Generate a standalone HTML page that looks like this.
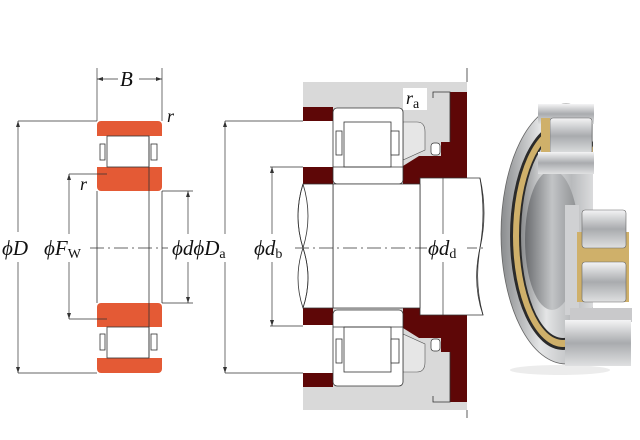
<!DOCTYPE html>
<html><head><meta charset="utf-8"><style>
html,body{margin:0;padding:0;background:#fff;}
svg{display:block;}
text{font-family:"Liberation Serif",serif;font-style:italic;fill:#111;}
</style></head><body>
<svg width="640" height="440" viewBox="0 0 640 440" xmlns="http://www.w3.org/2000/svg">
<defs>
<linearGradient id="steel" x1="0" y1="0" x2="1" y2="0">
<stop offset="0" stop-color="#8a8c8e"/><stop offset="0.3" stop-color="#e4e5e6"/><stop offset="0.6" stop-color="#b8babc"/><stop offset="1" stop-color="#eeeeef"/></linearGradient>
<linearGradient id="steel2" x1="0" y1="0" x2="0" y2="1">
<stop offset="0" stop-color="#f4f4f5"/><stop offset="0.5" stop-color="#a9abae"/><stop offset="1" stop-color="#dfe0e1"/></linearGradient>
<linearGradient id="bore" x1="0" y1="0" x2="1" y2="0">
<stop offset="0" stop-color="#6a6c6f"/><stop offset="0.5" stop-color="#c2c4c6"/><stop offset="1" stop-color="#8a8c8f"/></linearGradient>
<clipPath id="cl"><rect x="490" y="90" width="103" height="290"/></clipPath>
</defs>

<!-- LEFT BEARING -->
<g stroke="#333" stroke-width="0.8">
<rect x="97" y="121" width="65" height="70" rx="4" fill="#e45a35" stroke="none"/>
<rect x="97" y="303" width="65" height="70" rx="4" fill="#e45a35" stroke="none"/>
<rect x="97" y="136" width="10" height="31" fill="#fff" stroke="none"/>
<rect x="149" y="136" width="13" height="31" fill="#fff" stroke="none"/>
<rect x="97" y="327" width="10" height="31" fill="#fff" stroke="none"/>
<rect x="149" y="327" width="13" height="31" fill="#fff" stroke="none"/>
<rect x="107" y="136" width="42" height="31" fill="#fff"/>
<rect x="107" y="327" width="42" height="31" fill="#fff"/>
<rect x="100" y="144" width="5" height="16" fill="#fff"/>
<rect x="151" y="144" width="6" height="16" fill="#fff"/>
<rect x="100" y="334" width="5" height="16" fill="#fff"/>
<rect x="151" y="334" width="6" height="16" fill="#fff"/>
<line x1="97" y1="191" x2="97" y2="303"/>
<line x1="149" y1="136" x2="149" y2="358"/>
<line x1="162" y1="191" x2="162" y2="303"/>
</g>
<g stroke="#333" stroke-width="0.7" fill="none">
<line x1="97" y1="68" x2="97" y2="121"/><line x1="162" y1="68" x2="162" y2="121"/>
<line x1="97" y1="79" x2="118" y2="79"/><line x1="139" y1="79" x2="162" y2="79"/>
<line x1="18" y1="121" x2="97" y2="121"/><line x1="18" y1="373" x2="97" y2="373"/>
<line x1="18" y1="121" x2="18" y2="232"/><line x1="18" y1="262" x2="18" y2="373"/>
<line x1="69" y1="174" x2="107" y2="174"/><line x1="69" y1="319" x2="107" y2="319"/>
<line x1="69" y1="174" x2="69" y2="234"/><line x1="69" y1="262" x2="69" y2="319"/>
<line x1="162" y1="191" x2="193" y2="191"/><line x1="162" y1="303" x2="193" y2="303"/>
<line x1="188" y1="191" x2="188" y2="234"/><line x1="188" y1="262" x2="188" y2="303"/>
<line x1="90" y1="248" x2="168" y2="248" stroke-dasharray="14 4 2 4"/>
</g>
<g fill="#333">
<path d="M97 79 l6 -2 v4z"/><path d="M162 79 l-6 -2 v4z"/>
<path d="M18 121 l-2 6 h4z"/><path d="M18 373 l-2 -6 h4z"/>
<path d="M69 174 l-2 6 h4z"/><path d="M69 319 l-2 -6 h4z"/>
<path d="M188 191 l-2 6 h4z"/><path d="M188 303 l-2 -6 h4z"/>
</g>
<text x="120" y="86" font-size="21">B</text>
<text x="167" y="122" font-size="18">r</text>
<text x="80" y="190" font-size="18">r</text>
<text x="2" y="255" font-size="21">ϕD</text>
<text x="44" y="255" font-size="21">ϕF<tspan font-style="normal" font-size="14" dy="3">W</tspan></text>
<text x="172" y="255" font-size="21">ϕdϕD<tspan font-style="normal" font-size="14" dy="3">a</tspan></text>

<!-- MIDDLE ASSEMBLY -->
<rect x="303" y="82" width="164" height="328" fill="#d9d9d9"/>
<rect x="303" y="121" width="30" height="252" fill="#fff"/>
<rect x="333" y="184" width="87" height="124" fill="#fff"/>
<path d="M403 122 h14 q8 0 8 10 v18 l-22 10z" fill="#e6e6e6" stroke="#555" stroke-width="0.6"/>
<path d="M403 372 h14 q8 0 8 -10 v-18 l-22 -10z" fill="#e6e6e6" stroke="#555" stroke-width="0.6"/>
<g fill="#5e0707">
<rect x="303" y="107" width="30" height="14"/>
<rect x="303" y="167" width="30" height="17"/>
<rect x="303" y="307" width="30" height="18"/>
<rect x="303" y="373" width="30" height="14"/>
<path d="M403 166 l16 -10 h22 v-14 h9 v-50 h17 v91 l-8 0 v5 h-56 v-6 h-0z"/>
<path d="M403 328 l16 10 h22 v14 h9 v50 h17 v-91 l-8 0 v-5 h-56 v6z"/>
</g>
<g fill="none" stroke="#333" stroke-width="0.8">
<path d="M433 98 v-6 h17 v50"/><path d="M433 396 v6 h17 v-50"/>
<line x1="467" y1="68" x2="467" y2="82"/><line x1="467" y1="410" x2="467" y2="418"/>
</g>
<g fill="#fff" stroke="#333" stroke-width="0.7">
<rect x="431" y="143" width="9" height="12" rx="3"/>
<rect x="431" y="339" width="9" height="12" rx="3"/>
</g>
<g stroke="#333" stroke-width="0.8">
<rect x="333" y="108" width="70" height="76" rx="4" fill="#fff"/>
<rect x="333" y="310" width="70" height="76" rx="4" fill="#fff"/>
<rect x="344" y="122" width="47" height="45" fill="#fff"/>
<rect x="344" y="327" width="47" height="45" fill="#fff"/>
<rect x="336" y="131" width="6" height="24" fill="#fff"/>
<rect x="391" y="131" width="8" height="24" fill="#fff"/>
<rect x="336" y="339" width="6" height="24" fill="#fff"/>
<rect x="391" y="339" width="8" height="24" fill="#fff"/>
<line x1="333" y1="167" x2="403" y2="167"/><line x1="333" y1="327" x2="403" y2="327"/>
</g>
<g fill="#fff" stroke="#333" stroke-width="0.8">
<path d="M420 178 h60 q6 35 0 70 q-6 35 3 67 h-63z"/>
<path d="M333 184 h87 v124 h-87z"/>
<path d="M303 184 q-10 32 0 64 q10 30 0 60 h30 v-124z"/>
</g>
<path d="M303 184 q-10 32 0 64 q10 30 0 60" fill="none" stroke="#333" stroke-width="0.8"/>
<path d="M303 184 q10 32 0 64 q-10 30 0 60" fill="none" stroke="#333" stroke-width="0.8"/>
<path d="M480 178 q8 35 0 70 q-8 35 3 67" fill="none" stroke="#333" stroke-width="0.8"/>
<line x1="295" y1="248" x2="485" y2="248" stroke="#333" stroke-width="0.7" stroke-dasharray="14 4 2 4"/>
<g stroke="#333" stroke-width="0.7">
<line x1="225" y1="121" x2="303" y2="121"/><line x1="225" y1="373" x2="303" y2="373"/>
<line x1="225" y1="121" x2="225" y2="234"/><line x1="225" y1="262" x2="225" y2="373"/>
<line x1="270" y1="167" x2="303" y2="167"/><line x1="270" y1="326" x2="303" y2="326"/>
<line x1="272" y1="167" x2="272" y2="234"/><line x1="272" y1="262" x2="272" y2="326"/>
<line x1="443" y1="178" x2="443" y2="234"/><line x1="443" y1="262" x2="443" y2="315"/>
</g>
<g fill="#333">
<path d="M225 121 l-2 6 h4z"/><path d="M225 373 l-2 -6 h4z"/>
<path d="M272 167 l-2 6 h4z"/><path d="M272 326 l-2 -6 h4z"/>
</g>
<rect x="403" y="88" width="24" height="22" fill="#fff"/>
<text x="406" y="104" font-size="18">r<tspan font-style="normal" font-size="14" dy="4">a</tspan></text>
<text x="254" y="255" font-size="21">ϕd<tspan font-style="normal" font-size="14" dy="3">b</tspan></text>
<rect x="427" y="236" width="40" height="24" fill="#fff"/>
<text x="428" y="255" font-size="21">ϕd<tspan font-style="normal" font-size="14" dy="3">d</tspan></text>

<!-- PHOTO BEARING -->
<ellipse cx="560" cy="370" rx="50" ry="5" fill="#ececec"/>
<g clip-path="url(#cl)">
<ellipse cx="566" cy="234" rx="65" ry="130" fill="url(#steel)" stroke="#666" stroke-width="0.8"/>
<ellipse cx="563" cy="236" rx="53" ry="114" fill="#2b2b2b"/>
<ellipse cx="563" cy="236" rx="50" ry="111" fill="#cfb06a"/>
<ellipse cx="563" cy="236" rx="44" ry="104" fill="#2b2b2b"/>
<ellipse cx="563" cy="236" rx="42" ry="102" fill="url(#steel)"/>
<ellipse cx="552" cy="240" rx="27" ry="70" fill="url(#bore)"/>
</g>
<rect x="538" y="104" width="56" height="20" fill="url(#steel2)"/>
<rect x="550" y="118" width="42" height="36" rx="3" fill="url(#steel2)" stroke="#666" stroke-width="0.6"/>
<rect x="541" y="118" width="9" height="42" fill="#cfb06a"/>
<rect x="538" y="152" width="56" height="22" fill="url(#steel2)"/>
<rect x="565" y="205" width="14" height="110" fill="#d0d1d3"/>
<rect x="577" y="232" width="52" height="70" fill="#cfb06a"/>
<rect x="582" y="210" width="44" height="38" rx="3" fill="url(#steel2)" stroke="#666" stroke-width="0.6"/>
<rect x="582" y="262" width="44" height="40" rx="3" fill="url(#steel2)" stroke="#666" stroke-width="0.6"/>
<rect x="570" y="308" width="62" height="14" fill="#c9c9cb"/>
<rect x="565" y="320" width="66" height="46" fill="url(#steel2)"/>
</svg>
</body></html>
